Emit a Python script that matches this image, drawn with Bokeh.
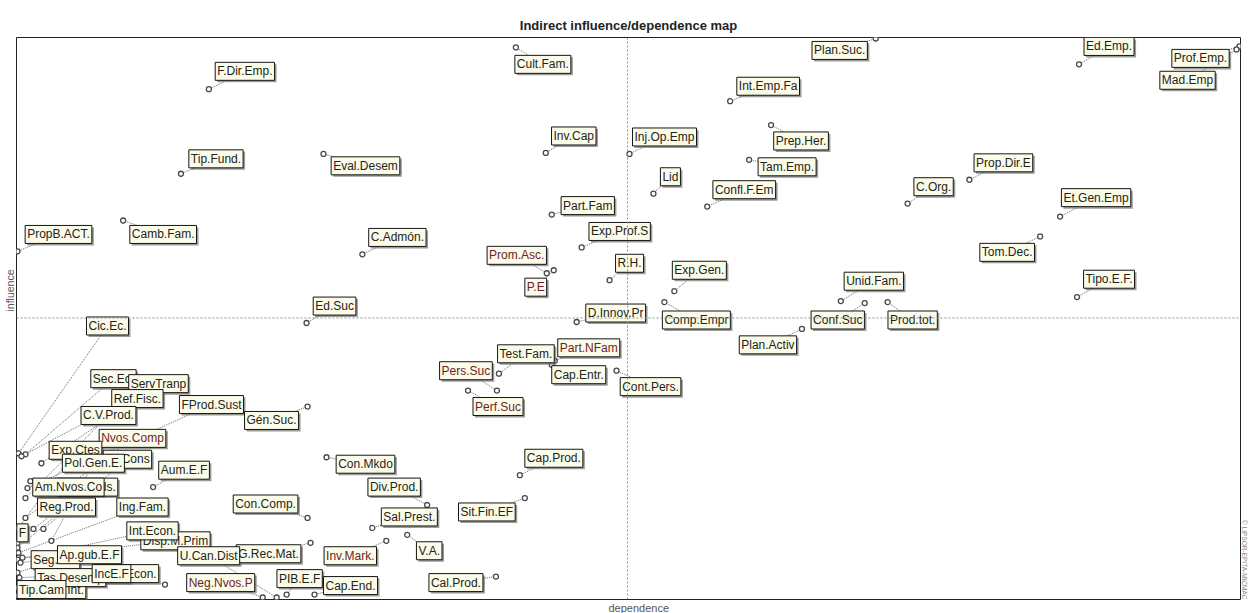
from bokeh.plotting import figure
from bokeh.models import ColumnDataSource, Range1d, Span, Title
from bokeh.core.properties import value
from bokeh.embed import file_html
from bokeh.resources import INLINE

# ---------------- data ----------------
title_text = "Indirect influence/dependence map"
x_axis_text = "dependence"
y_axis_text = "influence"
credit_text = "\u00a9 LIPSOR-EPITA-MICMAC"

variables = [
    "F.Dir.Emp.", "Tip.Fund.", "Eval.Desem", "PropB.ACT.", "Camb.Fam.", "C.Admón.", "Ed.Suc",
    "Cult.Fam.", "Inv.Cap", "Part.Fam", "Exp.Prof.S", "Prom.Asc.", "P.E", "R.H.", "D.Innov.Pr",
    "Plan.Suc.", "Int.Emp.Fa", "Inj.Op.Emp", "Prep.Her.", "Tam.Emp.", "Lid", "Confl.F.Em",
    "Exp.Gen.", "Comp.Empr", "Ed.Emp.", "Prof.Emp.", "Mad.Emp", "Prop.Dir.E", "C.Org.",
    "Et.Gen.Emp", "Tom.Dec.", "Tipo.E.F.", "Unid.Fam.", "Conf.Suc", "Prod.tot.", "Plan.Activ",
    "Test.Fam.", "Part.NFam", "Cap.Entr.", "Pers.Suc", "Perf.Suc", "Cont.Pers.", "Gén.Suc.",
    "Con.Mkdo", "Cap.Prod.", "Div.Prod.", "Sit.Fin.EF", "Sal.Prest.", "Con.Comp.", "V.A.",
    "Inv.Mark.", "G.Rec.Mat.", "Cal.Prod.", "PIB.E.F", "Cap.End.", "Neg.Nvos.P", "Disp.M.Prim",
    "U.Can.Dist", "Aum.E.F", "Cic.Ec.", "Sec.Ec.", "ServTranp", "Ref.Fisc.", "C.V.Prod.",
    "FProd.Sust", "Ev.Cons", "Nvos.Comp", "Exp.Ctes", "Pol.Gen.E.", "Tec.Prods.", "Am.Nvos.Co",
    "Reg.Prod.", "Ing.Fam.", "Int.Econ.", "F", "Seg.Fin.", "Ap.gub.E.F", "Crec.Econ.",
    "Tas.Int.", "Tas.Desemp", "IncE.F", "Tip.Cam",
]

dependence = [
    193, 165, 308, 1, 107, 347, 291,
    501, 531, 537, 567, 532, 539, 595, 562,
    862, 716, 615, 757, 735, 639, 693,
    660, 650, 1066, 1227, 1224, 956, 894,
    1047, 1027, 1064, 827, 851, 874, 788,
    484, 540, 537, 482, 453, 602, 292,
    311, 505, 412, 510, 357, 292, 392,
    371, 295, 481, 271, 299, 247, 6,
    261, 137, 2, 9, 5, 25, 9,
    11, 27, 9, 2, 35, 17, 14,
    1, 2, 1, 1, 1, 4, 149,
    4, 1, 3, 1,
]

influence = [
    513, 428, 448, 350, 381, 347, 278,
    555, 449, 387, 354, 328, 331, 321, 279,
    564, 501, 448, 477, 442, 408, 395,
    310, 299, 538, 556, 553, 422, 398,
    385, 365, 304, 300, 298, 299, 272,
    227, 240, 236, 210, 210, 230, 194,
    143, 125, 95, 102, 72, 82, 65,
    59, 57, 23, 5, 5, 2, 42,
    2, 113, 147, 146, 144, 137, 102,
    112, 71, 82, 72, 59, 71, 119,
    52, 47, 40, 57, 27, 37, 15,
    5, 12, 22, 4,
]

dependence_mean = 613
influence_mean = 283

# ---------------- layout (label offsets in screen px: right, up) ----------------
label_dx = [
    36, 35, 42, 41, 40, 35, 28,
    27, 28, 36, 38, -30, -18, 20, 39,
    -36, 38, 35, 30, 38, 17, 37,
    25, 32, 30, -39, -49, 34, 26,
    36, -33, 32, 33, -27, 25, -34,
    27, 34, 27, -31, 30, 34, -36,
    39, 34, -33, -38, 37, -42, 22,
    -36, -42, -40, 13, 36, -42, 153,
    -68, 31, 89, 88, 137, 96, 83,
    184, 84, 107, 57, 42, 54, 38,
    49, 124, 135, 5, 38, 69, -38,
    44, 53, 92, 24,
]
label_dy = [
    18, 15, -12, 17, -14, 17, 17,
    -17, 17, 9, 16, 18, -17, 17, 9,
    -12, 15, 17, -16, -7, 17, 17,
    21, -18, 18, -12, -31, 17, 17,
    19, -16, 18, 20, -17, -18, -16,
    20, 13, -10, 20, -16, -16, -14,
    -7, 17, 18, -14, 11, 14, -16,
    -15, -11, -6, 16, 9, 15, 17,
    42, 17, 128, 76, 73, 65, 83,
    84, 70, 80, 78, 78, 42, -6,
    41, 46, 29, 10, 13, 8, 11,
    5, 10, 4, 6,
]

red_labels = {"Pers.Suc", "Perf.Suc", "Part.NFam", "Inv.Mark.", "Neg.Nvos.P",
              "Nvos.Comp", "Prom.Asc.", "P.E"}

# ---------------- figure ----------------
W, H = 1249, 613
MB_L, MB_R, MB_T, MB_B = 16, 5, 37, 11
X_MAX, Y_MAX = 1228, 565
FONT = "Liberation Sans"

p = figure(width=W, height=H, output_backend="svg", toolbar_location=None,
           x_axis_location=None, y_axis_location=None,
           x_range=Range1d(0, X_MAX), y_range=Range1d(0, Y_MAX),
           min_border_left=MB_L, min_border_right=MB_R,
           min_border_top=MB_T, min_border_bottom=MB_B)
p.title.text = title_text
p.title.align = "center"
p.title.text_font = FONT
p.title.text_font_size = "13px"
p.title.text_font_style = "bold"
p.title.text_color = "#222222"
p.title.standoff = 10

p.add_layout(Title(text=y_axis_text, align="left", offset=288, text_font=FONT,
                   text_font_size="10.5px", text_font_style="normal",
                   text_color="#555555", standoff=2), "left")
p.add_layout(Title(text=x_axis_text, align="left", offset=592, text_font=FONT,
                   text_font_size="11px", text_font_style="normal",
                   text_color="#555555", standoff=0), "below")
p.add_layout(Title(text=credit_text, align="right", text_font=FONT,
                   text_font_size="6.5px", text_font_style="normal",
                   text_color="#8a8a8a", standoff=0), "right")

p.xgrid.visible = False
p.ygrid.visible = False
p.outline_line_color = "#222222"
p.outline_line_width = 1
p.background_fill_color = "white"
p.border_fill_color = "white"

# frame size in px (right border holds the credit panel, ~4px)
frame_w = W - MB_L - MB_R - 4
frame_h = H - MB_T - MB_B
ux = X_MAX / frame_w
uy = Y_MAX / frame_h

lx = [d + dx * ux for d, dx in zip(dependence, label_dx)]
ly = [v + dy * uy for v, dy in zip(influence, label_dy)]
colors = ["#6e1b2b" if n in red_labels else "#23231a" for n in variables]

src = ColumnDataSource(dict(name=variables, d=dependence, i=influence,
                            lx=lx, ly=ly, color=colors))

# quadrant lines
p.add_layout(Span(location=dependence_mean, dimension="height", line_color="#8c8c8c",
                  line_dash="2 2", line_width=1))
p.add_layout(Span(location=influence_mean, dimension="width", line_color="#8c8c8c",
                  line_dash="2 2", line_width=1))

# connectors
p.segment(x0="d", y0="i", x1="lx", y1="ly", source=src, line_color="#6a6a6a",
          line_dash="1 1", line_width=1)

# points
p.scatter(x="d", y="i", source=src, marker="circle", size=5, fill_color="white",
          line_color="#4a4a4a", line_width=1.3)

common = dict(text_font=value(FONT), text_font_size="12px",
              text_align="center", text_baseline="middle", padding=2)

# label shadows
p.text(x="lx", y="ly", text="name", source=src, text_alpha=0,
       background_fill_color="#7a7a7a", background_fill_alpha=0.75,
       border_line_color=None, x_offset=2, y_offset=2, **common)

# label boxes
p.text(x="lx", y="ly", text="name", source=src, text_color="color",
       background_fill_color="#fbfbea", border_line_color="#151515",
       border_line_width=1, **common)

open("out.html", "w").write(file_html(p, INLINE))
